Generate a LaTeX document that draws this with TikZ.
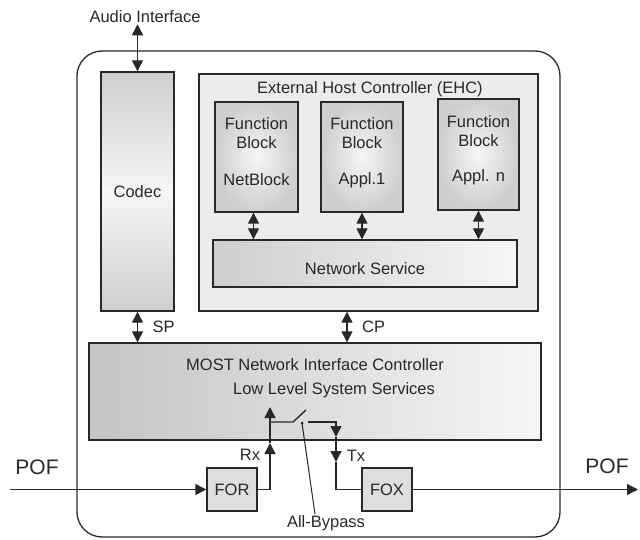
\documentclass[tikz,border=0pt]{standalone}
\usepackage{fontspec}
\setmainfont{Liberation Sans}
\usepackage{xcolor}
\usepackage{tikz}
\usetikzlibrary{positioning, arrows.meta, shadings}
\definecolor{mostLine}{RGB}{40, 40, 40}
\definecolor{mostDark}{RGB}{206, 206, 206}
\definecolor{mostLight}{RGB}{246, 246, 246}
\definecolor{mostHost}{RGB}{236, 236, 236}
\definecolor{mostFox}{RGB}{222, 222, 222}
\tikzset{
    base/.style={
        font=\fontsize{16.5}{19}\selectfont,
        align=center,
        text=mostLine
    },
    box/.style={
        base,
        rectangle,
        draw=mostLine,
        line width=1.4pt,
        inner sep=0pt
    },
    device/.style={
        rectangle,
        rounded corners=25pt,
        draw=mostLine,
        line width=1.3pt
    },
    codecbox/.style={
        box,
        top color=mostDark,
        bottom color=mostDark,
        middle color=mostLight
    },
    hostbox/.style={
        box,
        fill=mostHost
    },
    fblock/.style={
        box,
        inner color=mostLight,
        outer color=mostDark
    },
    servbox/.style={
        box,
        left color=mostDark,
        right color=mostLight
    },
    nicbox/.style={
        box,
        left color=mostDark!95!black,
        right color=mostLight
    },
    optbox/.style={
        box,
        fill=mostFox
    },
    txt/.style={
        base,
        inner sep=1pt
    },
    pof/.style={
        base,
        font=\fontsize{21}{24}\selectfont,
        inner sep=0pt
    },
    flow/.style={
        -{Triangle[length=11pt, width=11pt]},
        line width=1.4pt,
        color=mostLine
    },
    both/.style={
        {Triangle[length=11pt, width=11pt]}-{Triangle[length=11pt, width=11pt]},
        line width=1.4pt,
        color=mostLine
    },
    wire/.style={
        line width=1.4pt,
        color=mostLine
    }
}

\begin{document}
\begin{tikzpicture}[x=1pt, y=-1pt]
  \useasboundingbox (0,0) rectangle (640,540);

  % The device
  \node[device, minimum width=483pt, minimum height=486pt] (dev) at (318.5,294) {};

  % Codec and audio
  \node[codecbox, minimum width=73pt, minimum height=239pt] (codec) at (137.5,191.5) {Codec};
  \node[txt] (audio) at (145,17) {Audio Interface};
  \draw[both] (codec.north |- audio.south) -- (codec.north);

  % External host controller
  \node[hostbox, minimum width=339pt, minimum height=237pt] (ehc) at (368.5,192.5) {};
  \node[txt] (ehcTitle) at (370,89) {External Host Controller (EHC)};

  \node[fblock, minimum width=83pt, minimum height=110pt] (fb1) at (256.5,157) {};
  \node[fblock, minimum width=82pt, minimum height=110pt] (fb2) at (362,157) {};
  \node[fblock, minimum width=81pt, minimum height=111pt] (fb3) at (478.5,154.5) {};
  \node[txt] (fb1Name) at (256.5,133.5) {Function\\Block};
  \node[txt] (fb2Name) at (362,133.5) {Function\\Block};
  \node[txt] (fb3Name) at (478.5,131.5) {Function\\Block};
  \node[txt] (fb1App) at (256.5,180) {NetBlock};
  \node[txt] (fb2App) at (362,180) {Appl.1};
  \node[txt] (fb3App) at (478.5,177) {Appl. n};

  \node[servbox, minimum width=304pt, minimum height=47pt] (ns) at (365,263.5) {};
  \node[txt] (nsName) at (365,269) {Network Service};

  \draw[both] ([xshift=-3pt]fb1.south) -- ([xshift=-3pt]fb1.south |- ns.north);
  \draw[both] (fb2.south) -- (fb2.south |- ns.north);
  \draw[both] (fb3.south) -- (fb3.south |- ns.north);

  % Network interface controller
  \node[nicbox, minimum width=452pt, minimum height=97pt] (nic) at (315,391.5) {};
  \node[txt] (nicName) at (315,365) {MOST Network Interface Controller};
  \node[txt] (nicLow) at (334,390) {Low Level System Services};

  \draw[both] (codec.south) -- (codec.south |- nic.north);
  \node[txt, right=14pt of codec.south, yshift=-15pt] (sp) {SP};
  \coordinate (cpTop) at ([xshift=-21.5pt]ehc.south);
  \draw[both] (cpTop) -- (cpTop |- nic.north);
  \node[txt, right=14pt of cpTop, yshift=-15pt] (cp) {CP};

  % Optical transceivers
  \node[optbox, minimum width=50pt, minimum height=43pt] (for) at (232,489.5) {FOR};
  \node[optbox, minimum width=50pt, minimum height=43pt] (fox) at (387,489.5) {FOX};

  \coordinate (pofIn) at (10,489.5);
  \coordinate (pofOut) at (638,489.5);
  \draw[flow] (pofIn) -- (for.west);
  \draw[flow] (fox.east) -- (pofOut);
  \node[pof] (pofL) at (37,467) {POF};
  \node[pof] (pofR) at (607,466) {POF};

  % Rx, bypass switch and Tx
  \coordinate (rxMid) at (270,443);
  \coordinate (rxTop) at (270,407);
  \coordinate (swIn) at (270,422);
  \coordinate (swPivot) at (293,422);
  \coordinate (swBlade) at (306,410);
  \coordinate (swOut) at (308,422);
  \coordinate (txMid) at (336,437);
  \coordinate (txLow) at (336,462);
  \coordinate (bypass) at (302,423);

  \draw[flow] (for.east) -| (rxMid);
  \draw[flow] (rxMid) -- (rxTop);
  \draw[wire] (swIn) -- (swPivot) -- (swBlade);
  \draw[flow] (swOut) -| (txMid);
  \draw[flow] (txMid) -- (txLow);
  \draw[wire] (txLow) |- (fox.west);
  \node[txt] (rx) at (250,455) {Rx};
  \node[txt] (tx) at (356,456) {Tx};

  \node[txt] (allBypass) at (326,523) {All-Bypass};
  \fill[mostLine] (bypass) circle (1.5pt);
  \draw[line width=1pt, mostLine] (bypass) -- ([xshift=-11pt]allBypass.north);
\end{tikzpicture}
\end{document}
